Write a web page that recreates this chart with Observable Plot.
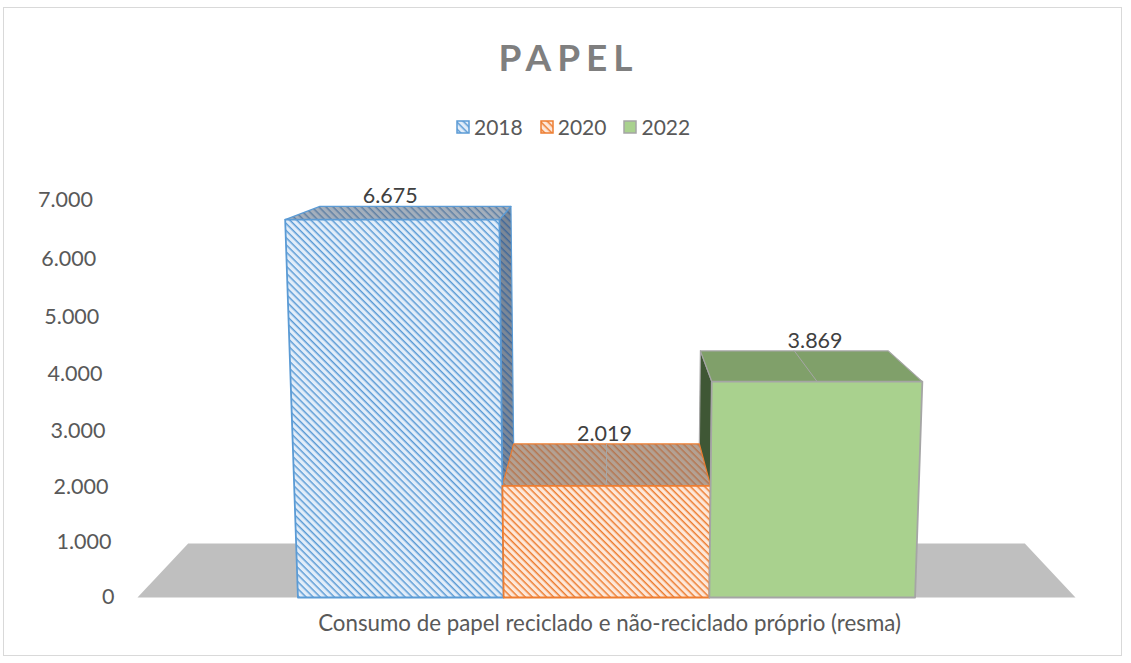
<!DOCTYPE html>
<html><head><meta charset="utf-8">
<script src="https://cdn.jsdelivr.net/npm/d3@7"></script>
<script src="https://cdn.jsdelivr.net/npm/@observablehq/plot@0.6"></script>
<style>
body{margin:0;background:#fff;font-family:Lato,"Open Sans",sans-serif;}
#wrap{position:relative;width:1131px;height:663px;overflow:hidden;background:#fff;}
#frame{position:absolute;left:3px;top:7px;width:1119px;height:649px;border:1px solid #d9d9d9;box-sizing:border-box;pointer-events:none;}
#title{position:absolute;left:0;top:34px;width:1131px;text-align:center;font-size:37px;font-weight:bold;letter-spacing:6px;padding-left:6px;box-sizing:border-box;color:#7f7f7f;}
#legend{position:absolute;left:456px;top:114px;display:flex;align-items:center;font-size:21px;color:#595959;}
#legend .item{display:flex;align-items:center;margin-right:17px;}
#legend svg{margin-right:4px;}
#chart{position:absolute;left:0;top:0;}
</style>
</head><body>
<svg width="0" height="0" style="position:absolute">
<defs>
<pattern id="blueFront" width="5" height="5" patternUnits="userSpaceOnUse" patternTransform="rotate(45)">
<rect width="5" height="5" fill="#e2edf9"/><rect width="5" height="1.5" fill="#5b9bd5"/></pattern>
<pattern id="blueTop" width="5" height="5" patternUnits="userSpaceOnUse" patternTransform="rotate(45)">
<rect width="5" height="5" fill="#a4afbc"/><rect width="5" height="1.5" fill="#5f80a4"/></pattern>
<pattern id="blueSide" width="5" height="5" patternUnits="userSpaceOnUse" patternTransform="rotate(45)">
<rect width="5" height="5" fill="#7c8897"/><rect width="5" height="1.5" fill="#41699a"/></pattern>
<pattern id="orangeFront" width="5" height="5" patternUnits="userSpaceOnUse" patternTransform="rotate(45)">
<rect width="5" height="5" fill="#fde8da"/><rect width="5" height="1.5" fill="#ed7d31"/></pattern>
<pattern id="orangeTop" width="5" height="5" patternUnits="userSpaceOnUse" patternTransform="rotate(45)">
<rect width="5" height="5" fill="#b3a193"/><rect width="5" height="1.5" fill="#b67650"/></pattern>
</defs></svg>
<div id="wrap">
<div id="chart"></div>
<div id="title">PAPEL</div>
<div id="legend"></div>
<div id="frame"></div>
</div>
<script>
// ---- data ----
const series = ["2018", "2020", "2022"];
const values = [6675, 2019, 3869];
const valueLabels = ["6.675", "2.019", "3.869"];
const category = "Consumo de papel reciclado e não-reciclado próprio (resma)";
const yTicks = [0, 1000, 2000, 3000, 4000, 5000, 6000, 7000];
const yTickLabels = ["0", "1.000", "2.000", "3.000", "4.000", "5.000", "6.000", "7.000"];

// ---- styles ----
const frontFill = ["url(#blueFront)", "url(#orangeFront)", "#a9d18e"];
const topFill = ["url(#blueTop)", "url(#orangeTop)", "#80a06a"];
const sideFill = ["url(#blueSide)", "url(#orangeTop)", "#3f5735"];
const edge = ["#5b9bd5", "#ed7d31", "#a5a5a5"];

// ---- 3D projection (Excel-like perspective) ----
const CX = 1.5, K = 0.108, VY = 9136, LEAN = 6e-6, WARP = -5e-6, FLOOR_EXT = 0.78, AXIS_X = -0.892;
const w = v => v / (1 + WARP * v);
function proj(x, v, d) {
  const Y0 = w(v);
  const X1 = CX + (x - CX) * (1 + LEAN * Y0);
  return {X: X1 + (CX - X1) * K * d, Y: Y0 + (VY - Y0) * K * d};
}
const poly = pts => pts.map(p => proj(...p));

const marks = [];
const n = series.length;
// floor
marks.push(Plot.line(poly([[-FLOOR_EXT,0,0],[n+FLOOR_EXT,0,0],[n+FLOOR_EXT,0,1],[-FLOOR_EXT,0,1]]),
  {x:"X", y:"Y", fill:"#bfbfbf", stroke:"none", curve:"linear-closed"}));
// side faces
series.forEach((s, i) => {
  const c = i + 0.5, v = values[i];
  if (Math.abs(c - CX) < 1e-9) return;
  const xs = c < CX ? i + 1 : i;
  marks.push(Plot.line(poly([[xs,0,0],[xs,v,0],[xs,v,1],[xs,0,1]]),
    {x:"X", y:"Y", fill:sideFill[i], stroke:edge[i], strokeWidth:1.2, curve:"linear-closed"}));
});
// top faces
series.forEach((s, i) => {
  const v = values[i];
  marks.push(Plot.line(poly([[i,v,0],[i+1,v,0],[i+1,v,1],[i,v,1]]),
    {x:"X", y:"Y", fill:topFill[i], stroke:edge[i], strokeWidth:1.2, curve:"linear-closed"}));
  if (i > 0) marks.push(Plot.line(poly([[i+0.5,v,0],[i+0.5,v,1]]),
    {x:"X", y:"Y", stroke:"#a6a6a6", strokeWidth:1}));
});
// front faces
series.forEach((s, i) => {
  const v = values[i];
  marks.push(Plot.line(poly([[i,0,0],[i+1,0,0],[i+1,v,0],[i,v,0]]),
    {x:"X", y:"Y", fill:frontFill[i], stroke:edge[i], strokeWidth:1.8, curve:"linear-closed"}));
});
// data labels
const labelData = series.map((s, i) => {
  const f = proj(i + 0.5, values[i], 0), b = proj(i + 0.5, values[i], 1);
  return {X: f.X, Y: b.Y, text: valueLabels[i]};
});
marks.push(Plot.text(labelData, {x:"X", y:"Y", text:"text", fontSize:21.5, fill:"#404040", lineAnchor:"bottom", dy:-3, dx:-2}));
// y axis labels
const tickData = yTicks.map((t, i) => ({...proj(AXIS_X, t, 0), text: yTickLabels[i]}));
marks.push(Plot.text(tickData, {x:"X", y:"Y", text:"text", textAnchor:"end", fontSize:21.5, fill:"#595959"}));
// category label
marks.push(Plot.text([category], {frameAnchor:"bottom", text:d => d, fontSize:22.3, fill:"#595959", dy:33, dx:3}));

const chart = Plot.plot({
  width: 1131, height: 663,
  marginLeft: 137, marginRight: 56, marginTop: 200, marginBottom: 66,
  x: {type:"linear", domain:[-FLOOR_EXT, n + FLOOR_EXT], axis:null},
  y: {type:"linear", domain:[0, w(7000)], axis:null},
  style: {fontFamily:"Lato, 'Open Sans', sans-serif", background:"transparent", overflow:"visible"},
  marks
});
document.getElementById("chart").appendChild(chart);

// legend
const legendFill = ["url(#blueFront)", "url(#orangeFront)", "#a9d18e"];
const lg = d3.select("#legend");
series.forEach((s, i) => {
  const it = lg.append("div").attr("class", "item");
  const sv = it.append("svg").attr("width", 14).attr("height", 14);
  sv.append("rect").attr("x", 1).attr("y", 1).attr("width", 12).attr("height", 12)
    .attr("fill", legendFill[i]).attr("stroke", edge[i]).attr("stroke-width", 1.5);
  it.append("span").text(s);
});
</script>
</body></html>
